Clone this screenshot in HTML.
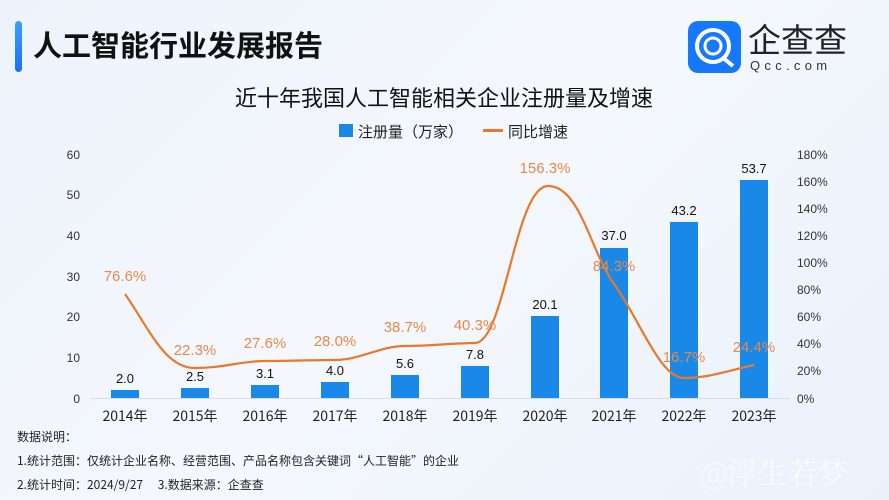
<!DOCTYPE html>
<html><head><meta charset="utf-8"><style>
body{margin:0;width:889px;height:500px;overflow:hidden;background:linear-gradient(135deg,#eef3fb,#f4f8fd 50%,#eaf1fb);font-family:"Liberation Sans","Noto Sans CJK SC",sans-serif;}
</style></head><body>
<svg width="889" height="500" xmlns="http://www.w3.org/2000/svg" style="position:absolute;left:0;top:0">
<defs><linearGradient id="lg" x1="0" y1="0" x2="0" y2="1"><stop offset="0" stop-color="#3aa0ff"/><stop offset="1" stop-color="#1a6ff0"/></linearGradient></defs>
<rect x="15" y="21" width="7" height="51" rx="3.5" fill="url(#lg)"/>
<text x="33" y="56" font-size="29" font-weight="bold" fill="#111" font-family="Noto Sans CJK SC,sans-serif">人工智能行业发展报告</text>
<rect x="688" y="21" width="53" height="52" rx="10" fill="#1677ff"/>
<circle cx="713" cy="46" r="16" fill="none" stroke="#fff" stroke-width="4"/>
<circle cx="713" cy="46" r="8" fill="none" stroke="#fff" stroke-width="3"/>
<path d="M722 57 L733 66" stroke="#fff" stroke-width="4"/>
<text x="748" y="52" font-size="33" fill="#222" font-family="Noto Sans CJK SC,sans-serif">企查查</text>
<text x="750" y="70" font-size="13" fill="#333" letter-spacing="4.3">Qcc.com</text>
<text x="444" y="106" font-size="22" fill="#111" text-anchor="middle" font-family="Noto Sans CJK SC,sans-serif">近十年我国人工智能相关企业注册量及增速</text>
<rect x="339" y="124" width="14" height="13" fill="#1a88e6"/>
<text x="358" y="137" font-size="15" fill="#222" font-family="Noto Sans CJK SC,sans-serif">注册量（万家）</text>
<rect x="483" y="129" width="20" height="3" fill="#e8782b"/>
<text x="508" y="137" font-size="15" fill="#222" font-family="Noto Sans CJK SC,sans-serif">同比增速</text>
<g font-size="12" fill="#333">
<text x="80" y="159" text-anchor="end">60</text><text x="80" y="199" text-anchor="end">50</text><text x="80" y="240" text-anchor="end">40</text><text x="80" y="281" text-anchor="end">30</text><text x="80" y="321" text-anchor="end">20</text><text x="80" y="362" text-anchor="end">10</text><text x="80" y="403" text-anchor="end">0</text>
<text x="797" y="159">180%</text><text x="797" y="186">160%</text><text x="797" y="213">140%</text><text x="797" y="240">120%</text><text x="797" y="267">100%</text><text x="797" y="294">80%</text><text x="797" y="321">60%</text><text x="797" y="348">40%</text><text x="797" y="375">20%</text><text x="797" y="403">0%</text>
</g>
<line x1="90" y1="398.5" x2="790" y2="398.5" stroke="#d8dde5"/>
<g fill="#1a88e6">
<rect x="111" y="390" width="28" height="8"/><rect x="181" y="388" width="28" height="10"/><rect x="251" y="385" width="28" height="13"/><rect x="321" y="382" width="28" height="16"/><rect x="391" y="375" width="28" height="23"/><rect x="461" y="366" width="28" height="32"/><rect x="531" y="316" width="28" height="82"/><rect x="600" y="248" width="28" height="150"/><rect x="670" y="222" width="28" height="176"/><rect x="740" y="180" width="28" height="218"/>
</g>
<g font-size="13" fill="#111" text-anchor="middle">
<text x="125" y="383">2.0</text><text x="195" y="381">2.5</text><text x="265" y="378">3.1</text><text x="335" y="375">4.0</text><text x="405" y="368">5.6</text><text x="475" y="359">7.8</text><text x="545" y="309">20.1</text><text x="614" y="240">37.0</text><text x="684" y="215">43.2</text><text x="754" y="173">53.7</text>
</g>
<path d="M125 294 C150 330,165 368,195 368 S240 361,265 361 S310 360,335 360 S380 346,405 346 S455 343,475 343 C505 343,515 186,548 186 C580 186,590 250,614 284 C640 320,660 378,684 378 C710 378,730 370,754 365" fill="none" stroke="#e8782b" stroke-width="2.2"/>
<g font-size="15" fill="#e8894a" text-anchor="middle">
<text x="125" y="281">76.6%</text><text x="195" y="355">22.3%</text><text x="265" y="348">27.6%</text><text x="335" y="346">28.0%</text><text x="405" y="332">38.7%</text><text x="475" y="330">40.3%</text><text x="545" y="173">156.3%</text><text x="614" y="271">84.3%</text><text x="684" y="362">16.7%</text><text x="754" y="352">24.4%</text>
</g>
<g font-size="14" fill="#222" text-anchor="middle" font-family="Noto Sans CJK SC,sans-serif">
<text x="125" y="421">2014年</text><text x="195" y="421">2015年</text><text x="265" y="421">2016年</text><text x="335" y="421">2017年</text><text x="405" y="421">2018年</text><text x="475" y="421">2019年</text><text x="545" y="421">2020年</text><text x="614" y="421">2021年</text><text x="684" y="421">2022年</text><text x="754" y="421">2023年</text>
</g>
<g font-size="12" fill="#222" font-family="Noto Sans CJK SC,sans-serif">
<text x="17" y="441">数据说明：</text>
<text x="17" y="465">1.统计范围：仅统计企业名称、经营范围、产品名称包含关键词“人工智能”的企业</text>
<text x="17" y="489">2.统计时间：2024/9/27　 3.数据来源：企查查</text>
</g>
<text x="700" y="484" font-size="30" fill="#fff" opacity="0.7" font-family="Noto Serif CJK SC,serif">@浮生若梦</text>
</svg>
</body></html>
